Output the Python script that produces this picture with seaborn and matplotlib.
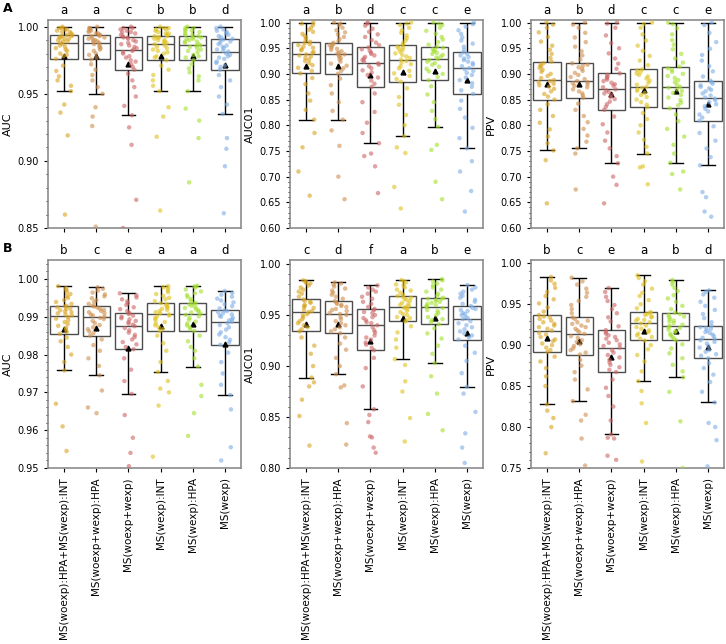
import numpy as np
import pandas as pd
import matplotlib
matplotlib.use('Agg')
import matplotlib.pyplot as plt
from matplotlib.ticker import AutoMinorLocator, MultipleLocator
import seaborn as sns

# --- Data ---
models = ['MS(woexp):HPA+MS(wexp):INT', 'MS(woexp+wexp):HPA', 'MS(woexp+wexp)',
          'MS(wexp):INT', 'MS(wexp):HPA', 'MS(wexp)']
palette = ['#d9a21b', '#cf8f4e', '#cd6464', '#e0c21c', '#a2e02a', '#7eaee6']

# row A
a_auc = [
    [0.860, 0.919, 0.936, 0.942, 0.952, 0.956, 0.960, 0.963, 0.967, 0.971, 0.976, 0.978, 0.979, 0.980,
     0.982, 0.983, 0.984, 0.985, 0.986, 0.987, 0.988, 0.989, 0.989, 0.990, 0.991, 0.991, 0.992, 0.992,
     0.993, 0.993, 0.994, 0.994, 0.995, 0.996, 0.996, 0.997, 0.998, 0.998, 0.999, 0.999, 1.000],
    [0.851, 0.926, 0.933, 0.940, 0.950, 0.955, 0.960, 0.964, 0.968, 0.972, 0.9756, 0.977, 0.979, 0.980,
     0.982, 0.983, 0.984, 0.985, 0.986, 0.987, 0.988, 0.989, 0.989, 0.990, 0.990, 0.991, 0.992, 0.992,
     0.993, 0.993, 0.994, 0.994, 0.995, 0.995, 0.996, 0.997, 0.997, 0.998, 0.999, 0.999, 1.000],
    [0.850, 0.871, 0.912, 0.925, 0.934, 0.941, 0.948, 0.955, 0.960, 0.965, 0.968, 0.970, 0.972, 0.974,
     0.975, 0.977, 0.978, 0.980, 0.981, 0.982, 0.983, 0.984, 0.985, 0.986, 0.987, 0.988, 0.989, 0.990,
     0.991, 0.992, 0.992, 0.993, 0.994, 0.995, 0.996, 0.996, 0.997, 0.998, 0.999, 0.999, 1.000],
    [0.863, 0.918, 0.933, 0.940, 0.952, 0.956, 0.960, 0.964, 0.968, 0.971, 0.975, 0.977, 0.978, 0.980,
     0.981, 0.982, 0.983, 0.984, 0.985, 0.986, 0.987, 0.988, 0.988, 0.989, 0.990, 0.990, 0.991, 0.992,
     0.992, 0.993, 0.993, 0.994, 0.995, 0.995, 0.996, 0.997, 0.998, 0.998, 0.999, 0.999, 1.000],
    [0.884, 0.917, 0.930, 0.939, 0.952, 0.960, 0.963, 0.966, 0.969, 0.972, 0.975, 0.977, 0.978, 0.979,
     0.981, 0.982, 0.983, 0.984, 0.985, 0.986, 0.986, 0.987, 0.988, 0.989, 0.989, 0.990, 0.991, 0.991,
     0.992, 0.992, 0.993, 0.994, 0.994, 0.995, 0.996, 0.997, 0.997, 0.998, 0.999, 0.999, 1.000],
    [0.861, 0.896, 0.909, 0.917, 0.935, 0.942, 0.948, 0.955, 0.960, 0.964, 0.968, 0.970, 0.971, 0.973,
     0.974, 0.976, 0.977, 0.978, 0.979, 0.980, 0.9815, 0.982, 0.983, 0.984, 0.985, 0.986, 0.987, 0.988,
     0.989, 0.990, 0.9905, 0.991, 0.992, 0.993, 0.994, 0.995, 0.996, 0.997, 0.998, 0.999, 1.000],
]
a_auc01 = [
    [0.663, 0.710, 0.757, 0.785, 0.811, 0.830, 0.848, 0.862, 0.880, 0.892, 0.901, 0.906, 0.912, 0.917,
     0.921, 0.925, 0.928, 0.931, 0.934, 0.936, 0.938, 0.941, 0.943, 0.946, 0.948, 0.951, 0.953, 0.956,
     0.958, 0.960, 0.9625, 0.966, 0.970, 0.974, 0.978, 0.982, 0.986, 0.990, 0.995, 0.998, 1.000],
    [0.656, 0.700, 0.760, 0.790, 0.811, 0.828, 0.845, 0.862, 0.878, 0.891, 0.9005, 0.906, 0.911, 0.916,
     0.920, 0.924, 0.928, 0.931, 0.934, 0.936, 0.938, 0.940, 0.942, 0.944, 0.947, 0.949, 0.951, 0.954,
     0.956, 0.958, 0.9605, 0.964, 0.968, 0.972, 0.977, 0.981, 0.985, 0.990, 0.995, 0.998, 1.000],
    [0.668, 0.720, 0.740, 0.745, 0.765, 0.785, 0.805, 0.826, 0.845, 0.862, 0.875, 0.881, 0.887, 0.893,
     0.898, 0.903, 0.907, 0.911, 0.915, 0.918, 0.9205, 0.924, 0.927, 0.930, 0.933, 0.936, 0.939, 0.942,
     0.945, 0.948, 0.9515, 0.956, 0.961, 0.966, 0.972, 0.977, 0.982, 0.988, 0.994, 0.998, 1.000],
    [0.638, 0.680, 0.746, 0.757, 0.779, 0.800, 0.820, 0.840, 0.855, 0.872, 0.885, 0.890, 0.896, 0.901,
     0.906, 0.911, 0.915, 0.919, 0.922, 0.925, 0.928, 0.931, 0.934, 0.937, 0.940, 0.943, 0.946, 0.949,
     0.951, 0.953, 0.956, 0.960, 0.965, 0.970, 0.975, 0.980, 0.985, 0.990, 0.995, 0.998, 1.000],
    [0.656, 0.690, 0.752, 0.762, 0.797, 0.812, 0.828, 0.845, 0.860, 0.876, 0.888, 0.894, 0.900, 0.905,
     0.910, 0.914, 0.918, 0.921, 0.924, 0.927, 0.929, 0.932, 0.934, 0.937, 0.939, 0.941, 0.944, 0.946,
     0.948, 0.951, 0.953, 0.957, 0.962, 0.967, 0.972, 0.978, 0.984, 0.990, 0.995, 0.998, 1.000],
    [0.632, 0.672, 0.710, 0.730, 0.755, 0.775, 0.795, 0.815, 0.832, 0.848, 0.861, 0.868, 0.875, 0.882,
     0.888, 0.893, 0.898, 0.902, 0.906, 0.909, 0.9115, 0.915, 0.918, 0.921, 0.924, 0.927, 0.930, 0.933,
     0.936, 0.939, 0.942, 0.947, 0.953, 0.959, 0.965, 0.971, 0.978, 0.985, 0.992, 0.997, 1.000],
]
a_ppv = [
    [0.648, 0.732, 0.751, 0.765, 0.778, 0.792, 0.805, 0.818, 0.830, 0.841, 0.850, 0.856, 0.861, 0.866,
     0.871, 0.875, 0.878, 0.881, 0.884, 0.886, 0.888, 0.892, 0.896, 0.900, 0.904, 0.908, 0.912, 0.915,
     0.918, 0.921, 0.924, 0.931, 0.939, 0.947, 0.955, 0.963, 0.972, 0.981, 0.990, 0.996, 1.000],
    [0.675, 0.745, 0.755, 0.768, 0.780, 0.793, 0.806, 0.818, 0.830, 0.842, 0.8535, 0.858, 0.862, 0.866,
     0.870, 0.874, 0.877, 0.880, 0.882, 0.884, 0.886, 0.890, 0.894, 0.898, 0.902, 0.906, 0.910, 0.913,
     0.916, 0.918, 0.9205, 0.928, 0.936, 0.944, 0.953, 0.962, 0.971, 0.980, 0.990, 0.996, 1.000],
    [0.648, 0.684, 0.700, 0.726, 0.740, 0.755, 0.770, 0.786, 0.802, 0.817, 0.830, 0.836, 0.841, 0.846,
     0.851, 0.855, 0.859, 0.862, 0.865, 0.868, 0.870, 0.874, 0.877, 0.880, 0.883, 0.886, 0.889, 0.892,
     0.895, 0.898, 0.901, 0.910, 0.920, 0.930, 0.940, 0.950, 0.960, 0.975, 0.990, 0.998, 1.000],
    [0.685, 0.718, 0.720, 0.745, 0.758, 0.772, 0.786, 0.800, 0.812, 0.824, 0.835, 0.840, 0.845, 0.850,
     0.855, 0.859, 0.863, 0.867, 0.870, 0.873, 0.875, 0.879, 0.883, 0.887, 0.891, 0.895, 0.898, 0.901,
     0.904, 0.907, 0.909, 0.917, 0.926, 0.935, 0.945, 0.955, 0.965, 0.977, 0.990, 0.997, 1.000],
    [0.675, 0.705, 0.710, 0.727, 0.745, 0.762, 0.778, 0.793, 0.808, 0.821, 0.833, 0.839, 0.844, 0.849,
     0.854, 0.859, 0.863, 0.867, 0.870, 0.873, 0.875, 0.879, 0.884, 0.888, 0.892, 0.896, 0.900, 0.904,
     0.908, 0.911, 0.914, 0.922, 0.930, 0.939, 0.948, 0.957, 0.966, 0.977, 0.989, 0.997, 1.000],
    [0.622, 0.632, 0.660, 0.670, 0.722, 0.738, 0.755, 0.770, 0.785, 0.798, 0.809, 0.815, 0.821, 0.827,
     0.832, 0.837, 0.841, 0.845, 0.849, 0.852, 0.854, 0.858, 0.862, 0.866, 0.869, 0.872, 0.875, 0.878,
     0.881, 0.884, 0.887, 0.895, 0.905, 0.915, 0.926, 0.937, 0.949, 0.962, 0.980, 0.995, 1.000],
]

# row B
b_auc = [
    [0.944, 0.9545, 0.961, 0.967, 0.9758, 0.978, 0.980, 0.982, 0.9835, 0.9845, 0.9855,
     0.9860, 0.9866, 0.9871, 0.9876, 0.9881, 0.9886, 0.9891, 0.9895, 0.9899, 0.9903,
     0.9906, 0.9909, 0.9912, 0.9914, 0.9917, 0.9920, 0.9922, 0.9925, 0.9927, 0.9929,
     0.9934, 0.9939, 0.9944, 0.9950, 0.9955, 0.9960, 0.9966, 0.9971, 0.9976, 0.9981],
    [0.9465, 0.9645, 0.966, 0.9705, 0.9745, 0.977, 0.979, 0.981, 0.9825, 0.984, 0.9850,
     0.9856, 0.9861, 0.9867, 0.9872, 0.9878, 0.9883, 0.9889, 0.9894, 0.9897, 0.9900,
     0.9903, 0.9906, 0.9909, 0.9912, 0.9915, 0.9918, 0.9921, 0.9924, 0.9927, 0.9929,
     0.9934, 0.9939, 0.9944, 0.9949, 0.9954, 0.9959, 0.9964, 0.9969, 0.9974, 0.9978],
    [0.924, 0.940, 0.9505, 0.954, 0.958, 0.964, 0.9696, 0.973, 0.976, 0.979, 0.9814,
     0.9820, 0.9827, 0.9833, 0.9840, 0.9846, 0.9852, 0.9858, 0.9864, 0.9870, 0.9875,
     0.9879, 0.9882, 0.9886, 0.9889, 0.9893, 0.9896, 0.9900, 0.9903, 0.9907, 0.9910,
     0.9915, 0.9920, 0.9925, 0.9931, 0.9936, 0.9941, 0.9946, 0.9951, 0.9957, 0.9962],
    [0.953, 0.9665, 0.970, 0.971, 0.973, 0.9754, 0.978, 0.981, 0.983, 0.985, 0.9862,
     0.9867, 0.9872, 0.9877, 0.9882, 0.9886, 0.9891, 0.9896, 0.9900, 0.9903, 0.9906,
     0.9909, 0.9912, 0.9915, 0.9918, 0.9921, 0.9924, 0.9927, 0.9930, 0.9933, 0.9936,
     0.9941, 0.9946, 0.9950, 0.9955, 0.9960, 0.9965, 0.9970, 0.9975, 0.9978, 0.9981],
    [0.9585, 0.9645, 0.969, 0.972, 0.9768, 0.979, 0.981, 0.982, 0.9835, 0.985, 0.9862,
     0.9867, 0.9872, 0.9877, 0.9882, 0.9887, 0.9892, 0.9897, 0.9901, 0.9905, 0.9908,
     0.9911, 0.9914, 0.9917, 0.9920, 0.9923, 0.9926, 0.9929, 0.9932, 0.9935, 0.9937,
     0.9942, 0.9947, 0.9952, 0.9957, 0.9962, 0.9967, 0.9972, 0.9977, 0.9980, 0.9982],
    [0.905, 0.945, 0.952, 0.9555, 0.9655, 0.9693, 0.972, 0.975, 0.978, 0.9805, 0.9826,
     0.9832, 0.9839, 0.9846, 0.9853, 0.9859, 0.9866, 0.9872, 0.9878, 0.9883, 0.9887,
     0.9890, 0.9893, 0.9897, 0.9900, 0.9903, 0.9906, 0.9909, 0.9912, 0.9915, 0.9917,
     0.9922, 0.9928, 0.9933, 0.9938, 0.9943, 0.9948, 0.9953, 0.9958, 0.9963, 0.9968],
]
b_auc01 = [
    [0.822, 0.851, 0.867, 0.880, 0.884, 0.8887, 0.900, 0.912, 0.920, 0.928, 0.934,
     0.936, 0.938, 0.940, 0.942, 0.944, 0.946, 0.948, 0.950, 0.951, 0.953,
     0.954, 0.955, 0.957, 0.958, 0.959, 0.960, 0.962, 0.963, 0.964, 0.9653,
     0.968, 0.971, 0.973, 0.975, 0.977, 0.979, 0.981, 0.982, 0.983, 0.984],
    [0.823, 0.844, 0.879, 0.881, 0.892, 0.900, 0.908, 0.916, 0.922, 0.928, 0.9322,
     0.934, 0.936, 0.938, 0.940, 0.942, 0.944, 0.946, 0.948, 0.950, 0.951,
     0.952, 0.954, 0.955, 0.956, 0.958, 0.959, 0.960, 0.961, 0.962, 0.9637,
     0.966, 0.968, 0.970, 0.972, 0.974, 0.976, 0.978, 0.980, 0.981, 0.982],
    [0.815, 0.820, 0.830, 0.831, 0.845, 0.852, 0.8576, 0.880, 0.898, 0.908, 0.9155,
     0.918, 0.921, 0.923, 0.926, 0.928, 0.930, 0.933, 0.935, 0.938, 0.940,
     0.942, 0.943, 0.945, 0.947, 0.948, 0.950, 0.952, 0.953, 0.955, 0.956,
     0.958, 0.961, 0.963, 0.966, 0.968, 0.971, 0.973, 0.975, 0.977, 0.979],
    [0.826, 0.849, 0.875, 0.885, 0.901, 0.9067, 0.918, 0.926, 0.933, 0.939, 0.9437,
     0.945, 0.947, 0.948, 0.950, 0.951, 0.953, 0.954, 0.956, 0.957, 0.958,
     0.959, 0.960, 0.961, 0.962, 0.964, 0.965, 0.966, 0.967, 0.968, 0.9686,
     0.970, 0.972, 0.974, 0.975, 0.977, 0.979, 0.980, 0.982, 0.983, 0.9843],
    [0.837, 0.853, 0.873, 0.890, 0.903, 0.912, 0.920, 0.927, 0.932, 0.937, 0.941,
     0.943, 0.945, 0.946, 0.948, 0.950, 0.952, 0.954, 0.955, 0.957, 0.958,
     0.959, 0.960, 0.961, 0.962, 0.963, 0.964, 0.965, 0.966, 0.966, 0.967,
     0.969, 0.971, 0.973, 0.975, 0.977, 0.979, 0.981, 0.983, 0.984, 0.9853],
    [0.805, 0.820, 0.834, 0.855, 0.873, 0.8796, 0.893, 0.905, 0.913, 0.920, 0.926,
     0.928, 0.930, 0.932, 0.934, 0.936, 0.938, 0.940, 0.942, 0.944, 0.946,
     0.947, 0.948, 0.950, 0.951, 0.952, 0.954, 0.955, 0.956, 0.957, 0.9588,
     0.961, 0.963, 0.965, 0.967, 0.969, 0.971, 0.973, 0.975, 0.977, 0.9794],
]
b_ppv = [
    [0.768, 0.800, 0.811, 0.820, 0.8276, 0.850, 0.862, 0.872, 0.880, 0.886, 0.8918,
     0.894, 0.897, 0.900, 0.902, 0.905, 0.907, 0.910, 0.913, 0.915, 0.9179,
     0.920, 0.922, 0.924, 0.926, 0.928, 0.930, 0.932, 0.934, 0.935, 0.9367,
     0.941, 0.946, 0.951, 0.956, 0.960, 0.965, 0.970, 0.975, 0.979, 0.9833],
    [0.753, 0.786, 0.808, 0.815, 0.8317, 0.846, 0.858, 0.867, 0.875, 0.882, 0.8885,
     0.891, 0.894, 0.896, 0.899, 0.901, 0.904, 0.906, 0.909, 0.911, 0.9138,
     0.916, 0.918, 0.920, 0.922, 0.924, 0.926, 0.928, 0.930, 0.932, 0.9338,
     0.939, 0.944, 0.949, 0.954, 0.959, 0.964, 0.969, 0.974, 0.978, 0.9824],
    [0.760, 0.765, 0.786, 0.787, 0.791, 0.808, 0.825, 0.838, 0.848, 0.858, 0.8672,
     0.870, 0.873, 0.876, 0.879, 0.882, 0.885, 0.888, 0.891, 0.894, 0.897,
     0.899, 0.901, 0.903, 0.906, 0.908, 0.910, 0.912, 0.914, 0.916, 0.9183,
     0.923, 0.929, 0.934, 0.939, 0.944, 0.949, 0.954, 0.959, 0.965, 0.9698],
    [0.758, 0.805, 0.829, 0.844, 0.8562, 0.868, 0.880, 0.888, 0.895, 0.900, 0.9057,
     0.908, 0.910, 0.912, 0.914, 0.916, 0.918, 0.920, 0.922, 0.924, 0.9265,
     0.928, 0.930, 0.931, 0.932, 0.934, 0.935, 0.937, 0.938, 0.939, 0.9404,
     0.945, 0.950, 0.955, 0.960, 0.964, 0.969, 0.974, 0.978, 0.982, 0.9853],
    [0.750, 0.807, 0.843, 0.8607, 0.868, 0.876, 0.884, 0.890, 0.896, 0.901, 0.9057,
     0.908, 0.910, 0.912, 0.914, 0.916, 0.917, 0.919, 0.921, 0.922, 0.9236,
     0.925, 0.927, 0.929, 0.930, 0.932, 0.934, 0.935, 0.937, 0.938, 0.9396,
     0.944, 0.948, 0.953, 0.957, 0.961, 0.966, 0.970, 0.974, 0.977, 0.9796],
    [0.752, 0.784, 0.800, 0.805, 0.830, 0.843, 0.855, 0.864, 0.872, 0.878, 0.884,
     0.887, 0.889, 0.892, 0.894, 0.897, 0.899, 0.902, 0.904, 0.906, 0.9077,
     0.909, 0.911, 0.913, 0.915, 0.916, 0.918, 0.920, 0.921, 0.922, 0.9236,
     0.928, 0.933, 0.938, 0.943, 0.948, 0.953, 0.958, 0.962, 0.965, 0.9669],
]

# significance letters above each box
a_auc_letters = ['a', 'a', 'c', 'b', 'b', 'd']
a_auc01_letters = ['a', 'b', 'd', 'c', 'c', 'e']
a_ppv_letters = ['a', 'b', 'd', 'c', 'c', 'e']
b_auc_letters = ['b', 'c', 'e', 'a', 'a', 'd']
b_auc01_letters = ['c', 'd', 'f', 'a', 'b', 'e']
b_ppv_letters = ['b', 'c', 'e', 'a', 'b', 'd']


def to_frame(groups):
    rows = []
    for name, vals in zip(models, groups):
        for v in vals:
            rows.append((name, v))
    return pd.DataFrame(rows, columns=['model', 'value'])


def draw_panel(ax, groups, letters, ylabel, ylim, major, show_xlabels):
    df = to_frame(groups)
    sns.boxplot(data=df, x='model', y='value', order=models, ax=ax,
                width=0.85, whis=1.5, showfliers=False, showmeans=True,
                color='white', linecolor='black', linewidth=1.0,
                boxprops=dict(facecolor='white', edgecolor='0.3'),
                medianprops=dict(color='0.3'),
                meanprops=dict(marker='^', markerfacecolor='black',
                               markeredgecolor='black', markersize=3.5))
    sns.stripplot(data=df, x='model', y='value', order=models, hue='model',
                  hue_order=models, palette=palette, ax=ax, size=3.2,
                  alpha=0.6, jitter=0.27, linewidth=0, legend=False)
    ax.set_ylim(*ylim)
    ax.yaxis.set_major_locator(MultipleLocator(major))
    ax.yaxis.set_minor_locator(AutoMinorLocator(5))
    ax.yaxis.set_major_formatter(matplotlib.ticker.FormatStrFormatter('%.2f'))
    ax.set_xlim(-0.5, 5.5)
    ax.set_xlabel('')
    ax.set_ylabel(ylabel, fontsize=8, labelpad=3)
    ax.tick_params(axis='y', labelsize=7, length=3, width=0.8)
    ax.tick_params(axis='x', labelsize=7.5, length=3, width=0.8)
    ax.tick_params(axis='y', which='minor', length=1.8, width=0.6)
    ax.set_xticks(range(len(models)))
    if show_xlabels:
        ax.set_xticklabels(models, rotation=90)
    else:
        ax.set_xticklabels([])
    for s in ax.spines.values():
        s.set_color('#8c8c8c')
        s.set_linewidth(1.2)
    trans = matplotlib.transforms.blended_transform_factory(ax.transData, ax.transAxes)
    for i, let in enumerate(letters):
        ax.text(i, 1.045, let, transform=trans, ha='center', va='center', fontsize=8.5)


np.random.seed(3)
fig = plt.figure(figsize=(7.26, 6.44), dpi=100)
lefts = [48 / 726, 290 / 726, 531 / 726]
w = 193 / 726
h = 208 / 644
bottoms = [1 - 228 / 644, 1 - 468 / 644]

panels = [
    (a_auc, a_auc_letters, 'AUC', (0.85, 1.005), 0.05),
    (a_auc01, a_auc01_letters, 'AUC01', (0.60, 1.005), 0.05),
    (a_ppv, a_ppv_letters, 'PPV', (0.60, 1.005), 0.05),
    (b_auc, b_auc_letters, 'AUC', (0.95, 1.005), 0.01),
    (b_auc01, b_auc01_letters, 'AUC01', (0.80, 1.004), 0.05),
    (b_ppv, b_ppv_letters, 'PPV', (0.75, 1.004), 0.05),
]

for k, (groups, letters, ylabel, ylim, major) in enumerate(panels):
    row, col = divmod(k, 3)
    ax = fig.add_axes([lefts[col], bottoms[row], w, h])
    draw_panel(ax, groups, letters, ylabel, ylim, major, show_xlabels=(row == 1))

fig.text(3 / 726, 1 - 9 / 644, 'A', fontsize=9, fontweight='bold', va='center')
fig.text(3 / 726, 1 - 248 / 644, 'B', fontsize=9, fontweight='bold', va='center')

fig.savefig('out.png', dpi=100)
